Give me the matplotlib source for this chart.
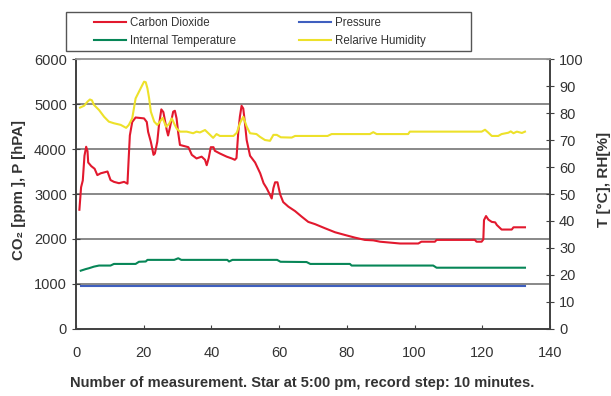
import matplotlib.pyplot as plt
from matplotlib.patches import Rectangle

plt.rcParams['font.family'] = ['Liberation Sans', 'DejaVu Sans']

# carbon dioxide [ppm] (left axis)
co2_x = [1, 1.5, 2, 2.5, 3, 3.4, 3.6, 4.5, 5.5, 6.3, 7.3, 9.3, 10.2, 11.2, 12.7, 14.2,
         15.2, 15.5, 15.9, 16.6, 17.6, 20.1, 20.9, 21.3, 22.1, 22.9, 23.3, 24, 24.5,
         25.2, 25.8, 26.8, 27.2, 27.8, 28.7, 29.2, 29.7, 30.2, 30.7, 31.7, 33.2, 34.2,
         35.6, 37.1, 38.1, 38.6, 39.2, 39.8, 40.6, 41, 42.5, 44.5, 46, 46.9, 47.4, 47.9,
         48.4, 48.9, 49.4, 49.9, 50.4, 51.4, 52.9, 54.4, 55.4, 56.3, 57.3, 57.8, 58.3,
         58.8, 59.5, 60.3, 61.2, 62.7, 64.7, 66.6, 68.6, 70.6, 73.5, 76.5, 79.4, 82.4,
         85.3, 87.8, 89.8, 95.7, 101.1, 102, 106, 106.5, 117.8, 118.3, 119.8, 120.3,
         120.5, 121.1, 121.8, 122.8, 123.8, 124.3, 125.7, 128.7, 129.2, 132.6]
co2_y = [2650, 3150, 3300, 3850, 4050, 3950, 3700, 3620, 3560, 3420, 3460, 3500, 3310,
         3270, 3240, 3270, 3230, 3700, 4300, 4600, 4700, 4680, 4600, 4380, 4160, 3870,
         3900, 4160, 4530, 4880, 4820, 4420, 4300, 4500, 4830, 4850, 4680, 4350, 4090,
         4070, 4040, 3870, 3790, 3830, 3760, 3640, 3800, 4040, 4040, 3960, 3900, 3830,
         3790, 3760, 3800, 4350, 4720, 4960, 4900, 4570, 4200, 3850, 3700, 3460, 3240,
         3130, 2980, 2900, 3130, 3260, 3260, 2990, 2820, 2720, 2620, 2500, 2380, 2330,
         2240, 2150, 2090, 2030, 1980, 1970, 1940, 1900, 1900, 1940, 1940, 1980, 1980,
         1940, 1940, 1990, 2420, 2510, 2430, 2380, 2370, 2310, 2210, 2210, 2260, 2260]

# pressure [hPa] (left axis)
p_x = [1.4, 132.6]
p_y = [965, 965]

# internal temperature [C] (right axis)
t_x = [1.4, 2.9, 3.8, 5.3, 6.8, 10.2, 11.2, 17.6, 18.6, 20.6, 21.1, 29, 30.2, 31.1,
       44.7, 45.2, 46.2, 59.4, 60.4, 68.1, 69.2, 80.9, 81.4, 105.5, 106.5, 132.6]
t_y = [21.6, 22.2, 22.5, 23.1, 23.5, 23.5, 24.1, 24.1, 24.9, 25, 25.6, 25.6, 26.2, 25.6,
       25.6, 25, 25.6, 25.6, 24.9, 24.8, 24.1, 24.1, 23.5, 23.5, 22.7, 22.7]

# relative humidity [%] (right axis)
rh_x = [1.2, 2.4, 3.4, 4.1, 4.7, 5.3, 6.8, 8.3, 9.7, 11.2, 13.2, 14.8, 15.6, 16.6, 17.1,
        17.6, 18.6, 19.6, 20.1, 20.6, 21.1, 21.6, 22.1, 23.1, 24, 24.8, 25.6, 26.6, 27.5,
        28.3, 29.2, 29.7, 30.7, 32.7, 34.6, 35.6, 36.6, 38.1, 39.6, 40.5, 41.5, 42.5,
        46.5, 47.5, 48.4, 49.4, 50.4, 51.4, 53.3, 54.3, 55.8, 57.3, 58.3, 59.3, 60.5,
        63.7, 64.7, 74.3, 75.5, 86.8, 87.8, 88.8, 98.1, 98.6, 119.8, 120.8, 121.8, 122.8,
        124.7, 125.7, 127.7, 128.4, 129.2, 130.2, 131.7, 132.6]
rh_y = [82, 82.7, 84.2, 85, 84.7, 83, 81.1, 78.6, 76.8, 76.2, 75.6, 74.5, 75.6, 78, 81.7,
        85.4, 87.9, 90.4, 91.6, 91.4, 89.1, 85.4, 80.5, 76.8, 75.6, 76.8, 78.2, 74.9, 76,
        78, 75.5, 74.3, 73.1, 73.1, 72.5, 73.1, 72.8, 73.7, 71.9, 70.8, 72.2, 71.5, 71.5,
        72.7, 76.2, 78.6, 75, 72.5, 72.2, 71.2, 70, 69.7, 71.9, 71.9, 71, 70.9, 71.5, 71.5,
        72.2, 72.2, 72.9, 72.2, 72.2, 73.1, 73.1, 73.8, 72.7, 71.5, 71.5, 72.2, 72.7, 73.2,
        72.5, 73.1, 72.6, 73.1]

red = '#E2192E'
blue = '#3F5FBF'
green = '#078657'
yellow = '#EDE12A'
txt = '#333333'

fig = plt.figure(figsize=(6.11, 3.96), dpi=100)
ax = fig.add_axes([0.1244, 0.1692, 0.7758, 0.6818])
ax2 = ax.twinx()

ax.set_xlim(0, 140)
ax.set_ylim(0, 6000)
ax2.set_ylim(0, 100)
ax.set_xticks(range(0, 141, 20))
ax.set_yticks(range(0, 6001, 1000))
ax2.set_yticks(range(0, 101, 10))

for v in range(1000, 6000, 1000):
    ax.axhline(v, color='#7f7f7f', lw=1.3, zorder=0)

l1, = ax.plot(co2_x, co2_y, color=red, lw=1.5, label='Carbon Dioxide')
l2, = ax.plot(p_x, p_y, color=blue, lw=1.5, label='Pressure')
l3, = ax2.plot(t_x, t_y, color=green, lw=1.5, label='Internal Temperature')
l4, = ax2.plot(rh_x, rh_y, color=yellow, lw=1.5, label='Relarive Humidity')

for a in (ax, ax2):
    for s in ('left', 'right', 'bottom'):
        a.spines[s].set_color('#404040')
        a.spines[s].set_linewidth(1.2)
    a.spines['top'].set_color('#9a9a9a')
    a.spines['top'].set_linewidth(1.2)
ax.tick_params(axis='y', direction='inout', length=6, color='#404040', labelsize=10.5, labelcolor=txt)
ax.tick_params(axis='x', direction='in', length=3, color='#404040', labelsize=10.5, labelcolor=txt, pad=12)
ax2.tick_params(axis='y', direction='inout', length=6, color='#404040', labelsize=10.5, labelcolor=txt)

ax.set_ylabel('CO₂ [ppm ], P [hPA]', fontsize=10.8, fontweight='bold', color=txt)
ax.yaxis.set_label_coords(-0.105, 0.515)
ax2.set_ylabel('T [°C], RH[%]', fontsize=11, fontweight='bold', color=txt)
ax2.yaxis.set_label_coords(1.10, 0.555)
ax.set_xlabel('Number of measurement. Star at 5:00 pm, record step: 10 minutes.',
              fontsize=10.5, fontweight='bold', color=txt)
ax.xaxis.set_label_coords(0.477, -0.175)

# legend box drawn separately so the inner spacing can follow the original
fig.patches.append(Rectangle((0.108, 0.8712), 0.6628, 0.0985, transform=fig.transFigure,
                             fill=False, edgecolor='#555555', lw=1.0))
leg = fig.legend(handles=[l1, l3, l2, l4], ncol=2, loc='upper left',
                 bbox_to_anchor=(0.1538, 0.957), fontsize=8.3, frameon=False,
                 handlelength=2.8, borderpad=0, borderaxespad=0, labelspacing=0.55,
                 handletextpad=0.35, columnspacing=5.4)
for t in leg.get_texts():
    t.set_color(txt)

fig.savefig('out.png', dpi=100)
